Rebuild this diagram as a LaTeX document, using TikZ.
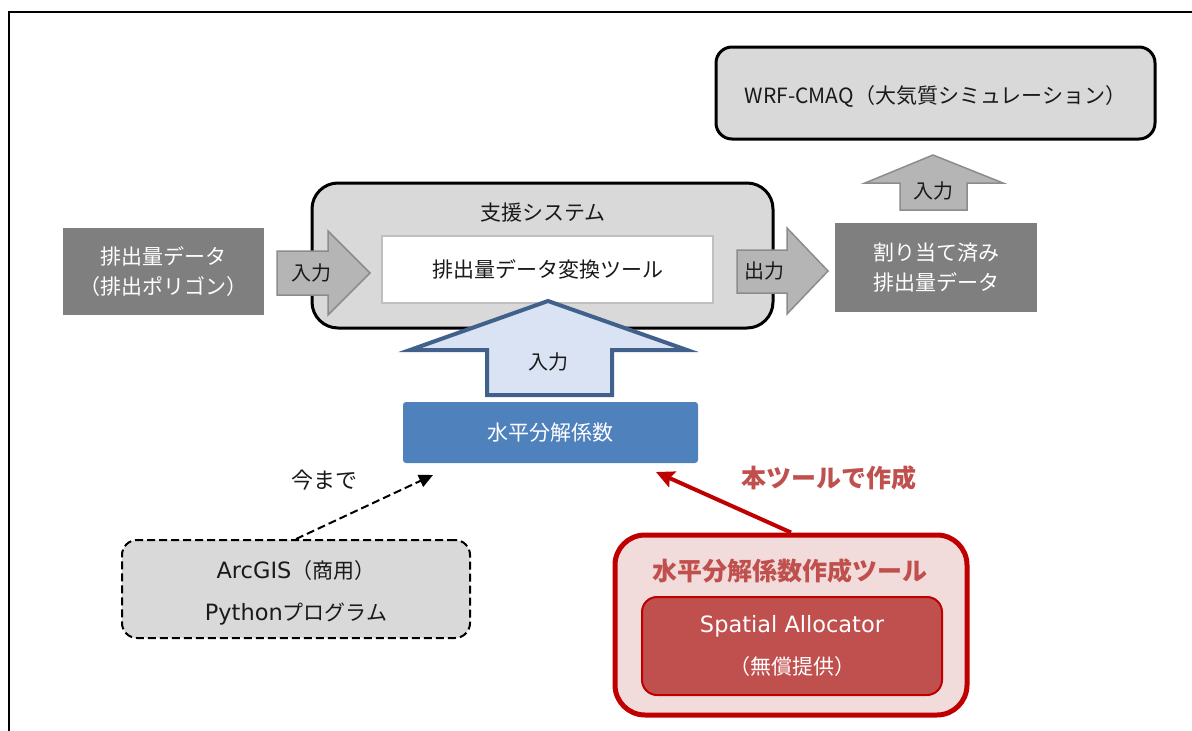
\documentclass[tikz,border=0pt]{standalone}
\usepackage{fontspec}
\setmainfont{Noto Sans CJK JP}
\newfontfamily\latfont{DejaVu Sans}[Scale=1.07]
\usetikzlibrary{arrows.meta}
\definecolor{boxgray}{HTML}{D9D9D9}
\definecolor{datagray}{HTML}{7F7F7F}
\definecolor{arrfill}{HTML}{B5B5B5}
\definecolor{arrline}{HTML}{8C8C8C}
\definecolor{bluefill}{HTML}{DAE3F3}
\definecolor{blueline}{HTML}{41618C}
\definecolor{bluebox}{HTML}{4F81BD}
\definecolor{redline}{HTML}{C00000}
\definecolor{redfill}{HTML}{F2DCDB}
\definecolor{redbox}{HTML}{C0504D}
\definecolor{txt}{HTML}{1A1A1A}
\tikzset{
  base/.style={font=\fontsize{21}{30}\selectfont, text=txt, align=center, inner sep=0pt},
  wide/.style={font=\fontsize{21}{42}\selectfont},
  graybox/.style={base, draw=black, line width=3pt, fill=boxgray, rounded corners=#1},
  databox/.style={base, fill=datagray, text=white},
  lbl/.style={base, font=\fontsize{20}{24}\selectfont},
  grayarrow/.style={draw=arrline, fill=arrfill, line width=1.5pt, line join=miter},
  redtitle/.style={base, font=\fontsize{25}{28}\selectfont\bfseries, text=redbox},
  dashline/.style={dash pattern=on 8pt off 4pt}
}
\begin{document}
\begin{tikzpicture}[x=1pt,y=-1pt]
\useasboundingbox (0,0) rectangle (1192,731);
\draw[line width=1.5pt] (9,731) -- (9,12) -- (1192,12);

% top box
\node[graybox=16pt, minimum width=439pt, minimum height=92pt] (wrf) at (935.5,93) {};
\node[base] (wrft) at (935.5,96) {WRF-CMAQ（大気質シミュレーション）};

% support system
\node[graybox=26pt, minimum width=461pt, minimum height=145pt] (sup) at (542.5,255.5) {};
\node[base] (supt) at (543,213) {支援システム};
\node[base, draw=black!25, line width=2pt, fill=white, minimum width=331pt, minimum height=67pt] (tool) at (547.5,269.5) {排出量データ変換ツール};

% data boxes
\node[databox, minimum width=201pt, minimum height=87pt] (src) at (163.5,271.5) {排出量データ\\（排出ポリゴン）};
\node[databox, minimum width=202pt, minimum height=89pt] (out) at (936,267.5) {割り当て済み\\排出量データ};

% gray arrows
\draw[grayarrow] (277,251) -- (328,251) -- (328,231) -- (370,273) -- (328,315) -- (328,295) -- (277,295) -- cycle;
\node[lbl] (inL) at (311,273) {入力};
\draw[grayarrow] (737,250) -- (787,250) -- (787,228) -- (828,271) -- (787,314) -- (787,293) -- (737,293) -- cycle;
\node[lbl] (outR) at (764,271) {出力};
\draw[grayarrow] (900,210) -- (900,183) -- (865,183) -- (933,155) -- (1003,183) -- (967,183) -- (967,210) -- cycle;
\node[lbl] (inT) at (933,191) {入力};

% blue arrow and box
\draw[draw=blueline, fill=bluefill, line width=4pt, line join=miter] (487,395) -- (487,350) -- (410,350) -- (548,301) -- (687,350) -- (612,350) -- (612,395) -- cycle;
\node[lbl] (inB) at (548,362) {入力};
\node[base, fill=bluebox, text=white, rounded corners=3pt, minimum width=295pt, minimum height=61pt] (coef) at (550.5,432.5) {水平分解係数};

% old way
\node[graybox=15pt, dashline, line width=2pt, minimum width=348pt, minimum height=98pt] (old) at (296,589) {};
\node[base, wide] (oldt) at (296,593) {{\latfont ArcGIS}（商用）\\{\latfont Python}プログラム};
\node[base, font=\fontsize{22}{26}\selectfont] (ima) at (324,480) {今まで};
\coordinate (t1) at (433,475);
\draw[dashline, line width=2pt, -{Triangle[length=14pt,width=13pt]}] (old.north) -- (t1);

% new tool
\node[base, draw=redline, fill=redfill, line width=5pt, rounded corners=30pt, minimum width=352pt, minimum height=180pt] (new) at (791,625) {};
\node[redtitle] (newt) at (790,571) {水平分解係数作成ツール};
\node[base, wide, draw=redline, fill=redbox, line width=2pt, rounded corners=15pt, text=white, minimum width=300pt, minimum height=98pt] (sa) at (792,646) {{\latfont Spatial Allocator}\\（無償提供）};
\node[redtitle] (hon) at (829,478) {本ツールで作成};
\coordinate (t2) at (656,472);
\draw[redline, line width=4pt, -{Stealth[length=18pt,width=17pt,inset=3pt]}] (new.north) -- (t2);
\end{tikzpicture}
\end{document}
